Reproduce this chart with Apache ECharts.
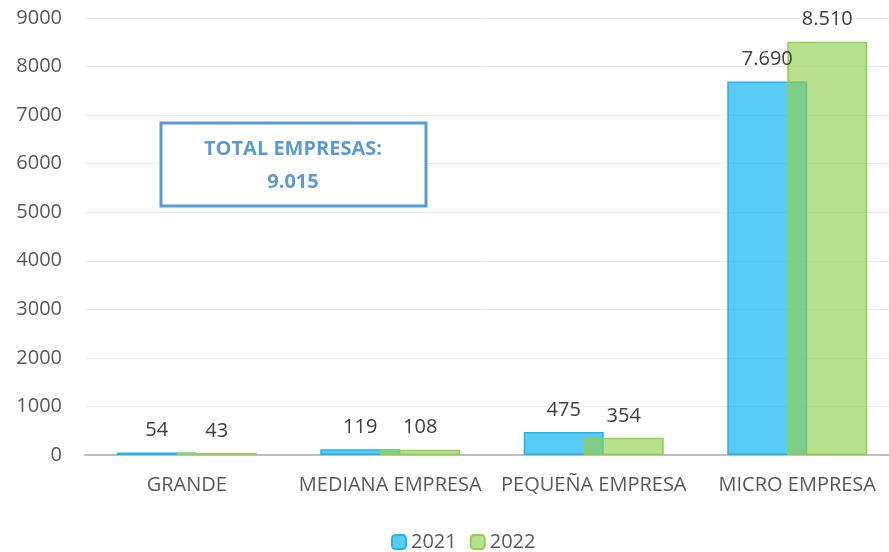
<!DOCTYPE html>
<html>
<head>
<meta charset="utf-8">
<script src="https://cdn.jsdelivr.net/npm/echarts@6/dist/echarts.min.js"></script>
<style>
  html, body { margin: 0; padding: 0; background: #fff; }
  #chart { width: 889px; height: 552px; }
</style>
</head>
<body>
<div id="chart"></div>
<script>
// datos
const categorias = ['GRANDE', 'MEDIANA EMPRESA', 'PEQUEÑA EMPRESA', 'MICRO EMPRESA']
const anios = ['2021', '2022']
const empresas2021 = [54, 119, 475, 7690]
const empresas2022 = [43, 108, 354, 8510]

// separador de miles con punto
function fmt(v) {
  return String(v).replace(/\B(?=(\d{3})+(?!\d))/g, '.')
}
const total = empresas2022.reduce((a, b) => a + b, 0)

const font = '"Open Sans", sans-serif'
const myChart = echarts.init(document.getElementById('chart'))
const labelTop = {
  show: true,
  position: 'top',
  distance: 12,
  color: '#404040',
  fontSize: 20,
  fontFamily: font,
  formatter: p => fmt(p.value)
}
const option = {
  animation: false,
  textStyle: { fontFamily: font },
  // el area del grafico sigue mas alla del borde derecho
  grid: { left: 85, width: 814, top: 18, height: 437, outerBoundsMode: 'none' },
  legend: {
    data: anios,
    top: 527,
    left: 386,
    itemWidth: 14,
    itemHeight: 14,
    itemGap: 13,
    textStyle: { color: '#595959', fontSize: 20, fontFamily: font }
  },
  xAxis: {
    type: 'category',
    data: categorias,
    axisTick: { show: false },
    axisLine: { lineStyle: { color: '#bfbfbf', width: 2 } },
    axisLabel: { interval: 0, color: '#595959', fontSize: 20, margin: 20, fontFamily: font }
  },
  yAxis: {
    type: 'value',
    min: 0,
    max: 9000,
    interval: 1000,
    axisLine: { show: false },
    axisTick: { show: false },
    splitLine: { lineStyle: { color: '#ebebeb' } },
    axisLabel: { color: '#595959', fontSize: 20, margin: 23, fontFamily: font, formatter: v => String(v) }
  },
  series: [
    {
      name: '2021',
      type: 'bar',
      data: empresas2021,
      barWidth: 80,
      barGap: '-25%',
      itemStyle: { color: 'rgba(0,176,240,0.65)', borderColor: '#1fb4ef', borderWidth: 1.5 },
      label: labelTop
    },
    {
      name: '2022',
      type: 'bar',
      data: empresas2022,
      barWidth: 80,
      itemStyle: { color: 'rgba(146,208,80,0.65)', borderColor: '#92d050', borderWidth: 1.5 },
      label: labelTop
    }
  ],
  graphic: [
    {
      type: 'rect',
      shape: { x: 161, y: 123, width: 265, height: 83 },
      style: { fill: '#fff', stroke: '#5b9bd5', lineWidth: 3 },
      z: 10
    },
    {
      type: 'text',
      x: 293,
      y: 166,
      style: {
        text: 'TOTAL EMPRESAS:\n' + fmt(total),
        fill: '#5b9bd5',
        font: 'bold 20px ' + font,
        align: 'center',
        verticalAlign: 'middle',
        lineHeight: 33
      },
      z: 11
    }
  ]
}
myChart.setOption(option)
</script>
</body>
</html>
